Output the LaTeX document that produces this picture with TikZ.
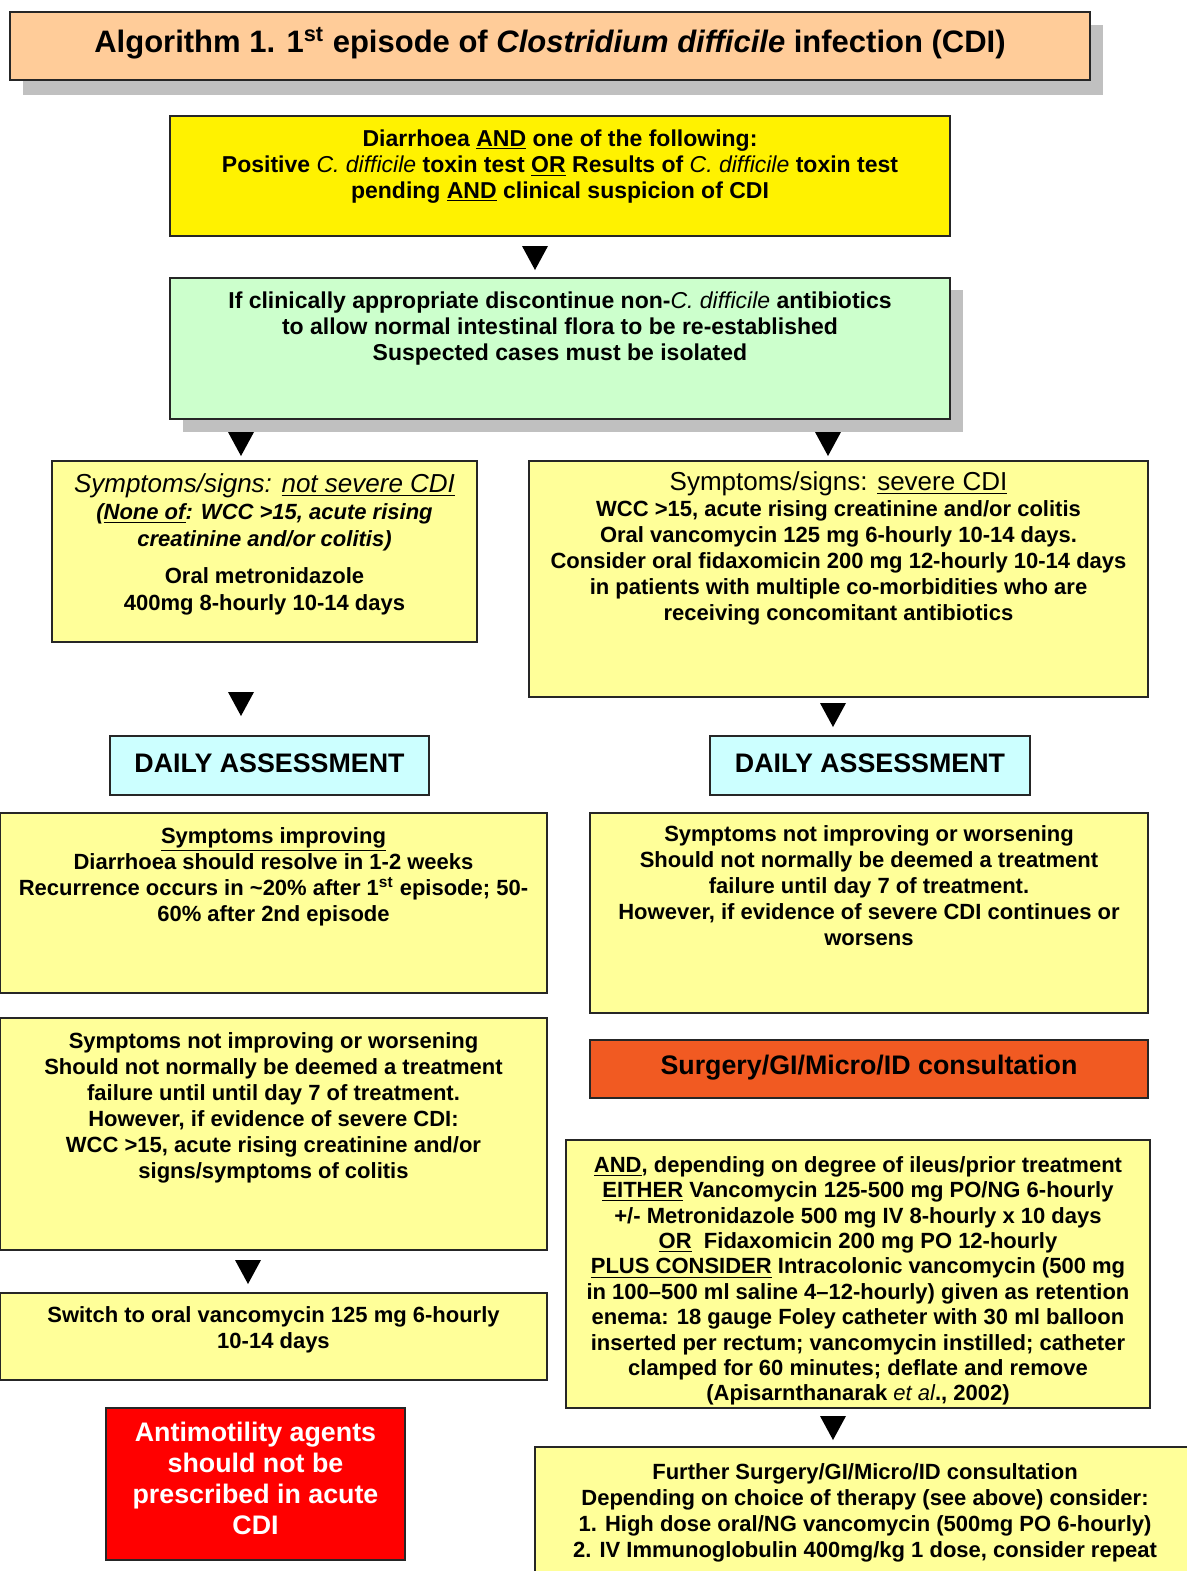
\documentclass[tikz,border=0pt]{standalone}
\usepackage{fontspec}
\setmainfont{Liberation Sans}
\definecolor{peach}{HTML}{FFCC99}
\definecolor{brightyellow}{HTML}{FFF200}
\definecolor{paleyellow}{HTML}{FFFF99}
\definecolor{palegreen}{HTML}{CCFFCC}
\definecolor{palecyan}{HTML}{CCFFFF}
\definecolor{consultorange}{HTML}{F15A22}
\definecolor{shadowgray}{HTML}{C0C0C0}
\tikzset{
  box/.style={draw=black!85, line width=1pt},
  txt/.style={anchor=north, align=center, inner sep=0pt, font=\bfseries\fontsize{11}{13}\selectfont},
  widetxt/.style={txt, font=\bfseries\fontsize{11.5}{13}\selectfont},
  bigtxt/.style={anchor=center, align=center, inner sep=0pt, font=\bfseries\fontsize{13.4}{15}\selectfont},
  tri/.pic={\fill (-13,-12) -- (13,-12) -- (0,12) -- cycle;}
}
\begin{document}
\begin{tikzpicture}[x=0.5pt, y=-0.5pt, line join=miter]
\useasboundingbox (0,0) rectangle (1187,1571);
% title
\fill[shadowgray] (23,25) rectangle (1103,95);
\draw[box, fill=peach] (10,12) rectangle (1090,80);
\node[bigtxt, font=\bfseries\fontsize{15.5}{17}\selectfont] (title) at (550,43)
  {Algorithm 1. 1\textsuperscript{st} episode of \textit{Clostridium difficile} infection (CDI)};
% first two boxes
\draw[box, fill=brightyellow] (170,116) rectangle (950,236);
\node[widetxt] (criteria) at (560,129)
  {Diarrhoea \underline{AND} one of the following:\\
   Positive {\mdseries\itshape C. difficile} toxin test \underline{OR} Results of {\mdseries\itshape C. difficile} toxin test\\
   pending \underline{AND} clinical suspicion of CDI};
\pic (t1) at (535,258) {tri};
\fill[shadowgray] (183,290) rectangle (963,432);
\draw[box, fill=palegreen] (170,278) rectangle (950,419);
\node[widetxt] (stopabx) at (560,291)
  {If clinically appropriate discontinue non-{\mdseries\itshape C. difficile} antibiotics\\
   to allow normal intestinal flora to be re-established\\
   Suspected cases must be isolated};
\pic (t2) at (241,444) {tri};
\pic (t3) at (828,444) {tri};
% not severe / severe
\draw[box, fill=paleyellow] (52,461) rectangle (477,642);
\node[txt, font=\bfseries\fontsize{11}{13.5}\selectfont] (mild) at (264.5,473)
  {{\mdseries\itshape\fontsize{13}{13.5}\selectfont Symptoms/signs: \underline{not severe CDI}}\\
   {\itshape (\underline{None of}: WCC >15, acute rising}\\
   {\itshape creatinine and/or colitis)}\\[5pt]
   Oral metronidazole\\
   400mg 8-hourly 10-14 days};
\draw[box, fill=paleyellow] (529,461) rectangle (1148,697);
\node[txt] (severe) at (838.5,471)
  {{\mdseries\fontsize{13}{13}\selectfont Symptoms/signs: \underline{severe CDI}}\\
   WCC >15, acute rising creatinine and/or colitis\\
   Oral vancomycin 125 mg 6-hourly 10-14 days.\\
   Consider oral fidaxomicin 200 mg 12-hourly 10-14 days\\
   in patients with multiple co-morbidities who are\\
   receiving concomitant antibiotics};
\pic (t4) at (241,704) {tri};
\pic (t5) at (833,715) {tri};
% daily assessment
\draw[box, fill=palecyan] (110,736) rectangle (429,795);
\node[bigtxt] (dailyL) at (269.5,763) {DAILY ASSESSMENT};
\draw[box, fill=palecyan] (710,736) rectangle (1030,795);
\node[bigtxt] (dailyR) at (870,763) {DAILY ASSESSMENT};
% outcomes
\draw[box, fill=paleyellow] (0,813) rectangle (547,993);
\node[txt] (improving) at (273.5,827)
  {\underline{Symptoms improving}\\
   Diarrhoea should resolve in 1-2 weeks\\
   Recurrence occurs in \textasciitilde20\% after 1\textsuperscript{st} episode; 50-\\
   60\% after 2nd episode};
\draw[box, fill=paleyellow] (590,813) rectangle (1148,1013);
\node[txt] (worseR) at (869,825)
  {Symptoms not improving or worsening\\
   Should not normally be deemed a treatment\\
   failure until day 7 of treatment.\\
   However, if evidence of severe CDI continues or\\
   worsens};
\draw[box, fill=paleyellow] (0,1018) rectangle (547,1250);
\node[txt] (worseL) at (273.5,1032)
  {Symptoms not improving or worsening\\
   Should not normally be deemed a treatment\\
   failure until until day 7 of treatment.\\
   However, if evidence of severe CDI:\\
   WCC >15, acute rising creatinine and/or\\
   signs/symptoms of colitis};
\draw[box, fill=consultorange] (590,1040) rectangle (1148,1098);
\node[bigtxt] (consult) at (869,1068) {Surgery/GI/Micro/ID consultation};
\pic (t6) at (248,1272) {tri};
\draw[box, fill=paleyellow] (0,1293) rectangle (547,1380);
\node[txt] (switch) at (273.5,1306)
  {Switch to oral vancomycin 125 mg 6-hourly\\
   10-14 days};
\draw[box, fill=paleyellow] (566,1140) rectangle (1150,1408);
\node[txt, font=\bfseries\fontsize{11}{12.7}\selectfont] (therapy) at (858,1156)
  {\underline{AND}, depending on degree of ileus/prior treatment\\
   \underline{EITHER} Vancomycin 125-500 mg PO/NG 6-hourly\\
   +/- Metronidazole 500 mg IV 8-hourly x 10 days\\
   \underline{OR}\ \ Fidaxomicin 200 mg PO 12-hourly\\
   \underline{PLUS CONSIDER} Intracolonic vancomycin (500 mg\\
   in 100--500 ml saline 4--12-hourly) given as retention\\
   enema: 18 gauge Foley catheter with 30 ml balloon\\
   inserted per rectum; vancomycin instilled; catheter\\
   clamped for 60 minutes; deflate and remove\\
   (Apisarnthanarak {\mdseries\itshape et al}., 2002)};
\pic (t7) at (833,1428) {tri};
\draw[box, fill=paleyellow] (535,1447) rectangle (1200,1580);
\node[txt] (further) at (865,1463)
  {Further Surgery/GI/Micro/ID consultation\\
   Depending on choice of therapy (see above) consider:\\
   1. High dose oral/NG vancomycin (500mg PO 6-hourly)\\
   2. IV Immunoglobulin 400mg/kg 1 dose, consider repeat};
% warning
\draw[box, fill=red] (106,1408) rectangle (405,1560);
\node[txt, text=white, font=\bfseries\fontsize{13.4}{15.5}\selectfont] (antimot) at (255.5,1422)
  {Antimotility agents\\
   should not be\\
   prescribed in acute\\
   CDI};
\end{tikzpicture}
\end{document}
